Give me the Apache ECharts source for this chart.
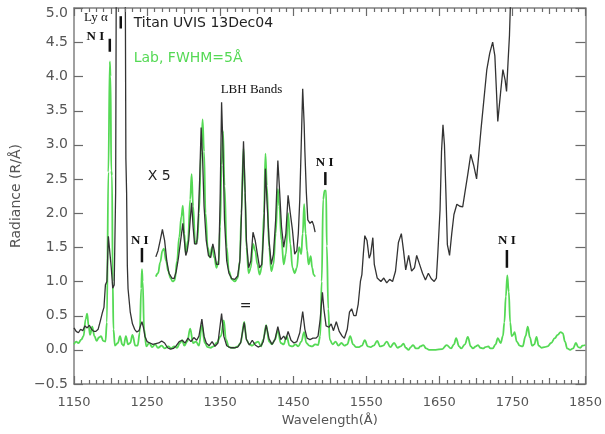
<!DOCTYPE html>
<html>
<head>
<meta charset="utf-8">
<script src="https://cdn.jsdelivr.net/npm/echarts@6/dist/echarts.min.js"></script>
<style>html,body{margin:0;padding:0;background:#fff;}#c{width:605px;height:434px;}</style>
</head>
<body>
<div id="c"></div>
<script>
// ---- data (wavelength in Å, radiance in R/Å) ----
const xTicks = [1150, 1850, 100];
const xMinorStep = 10;
const yTicks = [-0.5, 5.0, 0.5];

const titanLow = [[1150,0.32],[1153,0.27],[1156,0.25],[1159,0.3],[1162,0.28],[1165,0.35],[1168,0.32],[1171,0.36],[1174,0.3],[1177,0.27],[1180,0.27],[1183,0.3],[1186,0.42],[1189,0.55],[1191,0.62],[1193,0.95],[1195,1.0],[1197,1.66],[1199,1.66],[1201,1.2],[1203,0.9],[1205,0.95],[1207,2.3],[1208,6],[1220,6],[1221,2.8],[1222,2.3],[1223,1.23],[1224,0.89],[1227,0.55],[1230,0.38],[1233,0.3],[1236,0.26],[1239,0.28],[1241,0.35],[1243,0.41],[1245,0.33],[1247,0.2],[1250,0.12],[1254,0.1],[1258,0.08],[1262,0.09],[1266,0.1],[1270,0.13],[1274,0.1],[1278,0.03],[1282,0.01],[1286,0.02],[1290,0.06],[1294,0.12],[1298,0.14],[1302,0.1],[1306,0.17],[1310,0.12],[1314,0.18],[1318,0.14],[1321,0.2],[1325,0.45],[1328,0.2],[1331,0.1],[1335,0.06],[1339,0.12],[1343,0.05],[1347,0.1],[1352,0.53],[1355,0.2],[1359,0.06],[1364,0.03],[1369,0.03],[1374,0.04],[1378,0.1],[1383,0.4],[1386,0.15],[1390,0.07],[1394,0.14],[1398,0.07],[1402,0.04],[1406,0.06],[1409,0.12],[1413,0.36],[1417,0.16],[1421,0.08],[1425,0.15],[1429,0.34],[1433,0.15],[1437,0.2],[1440,0.15],[1443,0.27],[1447,0.14],[1451,0.1],[1455,0.12],[1459,0.25],[1463,0.56],[1466,0.3],[1469,0.17],[1473,0.15],[1477,0.17],[1481,0.17],[1484,0.2],[1487,0.45],[1490,0.84],[1492,0.6],[1495,0.35],[1499,0.33],[1502,0.38],[1505,0.28],[1509,0.41],[1513,0.27],[1517,0.2],[1520,0.17],[1524,0.3],[1527,0.55],[1530,0.6],[1533,0.5],[1536,0.5],[1539,0.67],[1542,1.0],[1544,1.1],[1546,1.4],[1548,1.67],[1551,1.6],[1554,1.34],[1556,1.4],[1559,1.64],[1561,1.25],[1565,1.05],[1570,1.0],[1574,1.05],[1578,0.98],[1582,1.03],[1586,1.0],[1590,1.15],[1594,1.57],[1598,1.7],[1601,1.45],[1604,1.17],[1608,1.38],[1612,1.15],[1616,1.2],[1619,1.38],[1623,1.25],[1627,1.12],[1631,1.02],[1635,1.12],[1639,1.04],[1643,1.0],[1646,1.05],[1648,1.42],[1651,2.05],[1653,2.9],[1655,3.29],[1657,3.0],[1659,2.3],[1661,1.54],[1664,1.38],[1667,1.7],[1670,1.98],[1674,2.13],[1678,2.1],[1682,2.09],[1685,2.3],[1689,2.57],[1693,2.86],[1697,2.7],[1701,2.5],[1704,2.86],[1707,3.22],[1711,3.66],[1715,4.1],[1719,4.34],[1723,4.5],[1726,4.3],[1728,3.83],[1730,3.34],[1732,3.35],[1734,3.78],[1737,4.1],[1740,3.95],[1742,3.78],[1744,4.2],[1746,4.6],[1748,5.3],[1750,6]];

const labLow = [[1150,0.08],[1153,0.12],[1156,0.1],[1160,0.15],[1163,0.2],[1166,0.45],[1168,0.53],[1170,0.35],[1172,0.22],[1175,0.34],[1178,0.2],[1181,0.13],[1184,0.18],[1187,0.2],[1190,0.13],[1193,0.12],[1195,0.4],[1197,2.6],[1199,4.22],[1200,4.0],[1201,2.62],[1202,2.55],[1203,1.0],[1204,0.3],[1206,0.06],[1210,0.1],[1213,0.2],[1216,0.08],[1218,0.06],[1221,0.2],[1224,0.08],[1227,0.1],[1230,0.22],[1234,0.06],[1237,0.06],[1240,0.25],[1242,0.9],[1243,1.18],[1244,1.0],[1246,0.3],[1249,0.05],[1253,0.1],[1257,0.04],[1261,0.08],[1265,0.03],[1270,0.06],[1274,0.02],[1279,0.05],[1283,0.02],[1287,0.05],[1291,0.03],[1295,0.1],[1298,0.14],[1301,0.06],[1305,0.12],[1309,0.31],[1313,0.1],[1317,0.12],[1321,0.06],[1325,0.36],[1329,0.1],[1333,0.04],[1337,0.03],[1341,0.05],[1345,0.1],[1351,0.2],[1355,0.43],[1358,0.15],[1362,0.04],[1366,0.03],[1370,0.03],[1374,0.05],[1378,0.1],[1383,0.41],[1386,0.15],[1390,0.08],[1394,0.06],[1398,0.1],[1402,0.12],[1406,0.05],[1409,0.15],[1413,0.36],[1417,0.12],[1421,0.08],[1425,0.15],[1429,0.28],[1433,0.1],[1437,0.08],[1441,0.2],[1445,0.06],[1449,0.05],[1453,0.08],[1457,0.05],[1461,0.12],[1465,0.26],[1468,0.1],[1472,0.06],[1476,0.05],[1480,0.08],[1484,0.07],[1487,0.2],[1489,1.0],[1491,2.2],[1493,2.33],[1495,2.33],[1496,1.52],[1498,0.6],[1500,0.15],[1504,0.08],[1508,0.12],[1512,0.06],[1516,0.1],[1520,0.06],[1524,0.08],[1528,0.2],[1532,0.08],[1536,0.04],[1540,0.04],[1544,0.06],[1548,0.14],[1552,0.05],[1556,0.04],[1560,0.06],[1565,0.13],[1569,0.05],[1573,0.06],[1578,0.12],[1583,0.04],[1588,0.1],[1593,0.03],[1597,0.05],[1601,0.09],[1604,0.03],[1608,0.0],[1611,0.04],[1614,0.07],[1618,0.02],[1621,0.02],[1624,0.05],[1628,0.07],[1632,0.02],[1636,0.0],[1645,0.0],[1654,0.01],[1660,0.07],[1666,0.02],[1670,0.08],[1673,0.17],[1677,0.05],[1680,0.02],[1685,0.08],[1689,0.19],[1693,0.05],[1696,0.02],[1700,0.05],[1703,0.07],[1706,0.03],[1710,0.02],[1713,0.04],[1717,0.05],[1720,0.02],[1723,0.02],[1727,0.08],[1730,0.17],[1734,0.1],[1737,0.2],[1739,0.4],[1741,0.78],[1743,1.09],[1745,0.85],[1747,0.4],[1749,0.2],[1751,0.22],[1753,0.26],[1756,0.12],[1760,0.06],[1764,0.05],[1768,0.2],[1771,0.34],[1774,0.18],[1777,0.06],[1780,0.08],[1783,0.19],[1786,0.06],[1790,0.03],[1794,0.04],[1798,0.05],[1803,0.1],[1808,0.17],[1812,0.22],[1816,0.26],[1819,0.24],[1822,0.12],[1825,0.02],[1829,0.0],[1833,0.02],[1837,0.1],[1840,0.04],[1843,0.03],[1846,0.06],[1850,0.07]];

const titanX5 = [[1262,1.36],[1265,1.45],[1268,1.6],[1271,1.76],[1274,1.6],[1277,1.3],[1280,1.12],[1284,1.05],[1287,1.04],[1290,1.15],[1293,1.35],[1296,1.6],[1299,1.85],[1301,1.6],[1303,1.38],[1305,1.45],[1307,1.6],[1309,1.9],[1311,2.15],[1313,1.8],[1315,1.55],[1318,1.55],[1320,1.9],[1322,2.5],[1324,3.25],[1326,2.8],[1328,2.1],[1331,1.6],[1334,1.38],[1337,1.35],[1340,1.55],[1342,1.45],[1345,1.25],[1348,1.25],[1350,2.2],[1352,3.62],[1354,2.9],[1356,1.9],[1359,1.3],[1362,1.12],[1366,1.04],[1370,1.03],[1374,1.08],[1377,1.3],[1379,1.9],[1382,3.05],[1384,2.4],[1386,1.6],[1389,1.2],[1392,1.3],[1395,1.72],[1398,1.6],[1401,1.4],[1404,1.2],[1407,1.25],[1410,1.8],[1412,2.65],[1414,2.2],[1417,1.6],[1420,1.25],[1423,1.4],[1426,1.9],[1429,2.77],[1431,2.4],[1434,1.8],[1437,1.5],[1440,1.7],[1443,2.26],[1446,2.0],[1449,1.75],[1452,1.4],[1455,1.45],[1457,1.7],[1459,2.2],[1461,3.0],[1463,3.82],[1465,3.3],[1466,2.9],[1468,2.3],[1470,1.9],[1473,1.85],[1476,1.88],[1478,1.82],[1480,1.72]];

const labX5 = [[1262,1.07],[1265,1.12],[1268,1.28],[1271,1.45],[1273,1.48],[1276,1.3],[1279,1.15],[1282,1.05],[1285,1.0],[1288,1.02],[1291,1.3],[1294,1.65],[1297,1.95],[1299,2.11],[1301,1.7],[1303,1.4],[1306,1.6],[1309,2.2],[1311,2.57],[1313,2.1],[1316,1.55],[1319,1.6],[1321,2.0],[1324,2.9],[1326,3.37],[1328,2.9],[1330,2.0],[1333,1.5],[1336,1.35],[1339,1.5],[1342,1.35],[1345,1.2],[1348,1.3],[1350,1.8],[1352,2.7],[1354,3.2],[1356,2.4],[1359,1.5],[1362,1.15],[1366,1.03],[1370,1.0],[1374,1.05],[1377,1.3],[1379,2.0],[1382,2.95],[1384,2.3],[1386,1.5],[1389,1.12],[1392,1.2],[1395,1.55],[1398,1.45],[1401,1.25],[1404,1.1],[1407,1.2],[1410,2.0],[1412,2.87],[1414,2.4],[1417,1.5],[1420,1.15],[1423,1.25],[1426,1.7],[1429,2.35],[1431,2.1],[1434,1.6],[1437,1.25],[1440,1.4],[1443,2.0],[1446,1.55],[1449,1.2],[1452,1.12],[1455,1.2],[1458,1.5],[1461,1.4],[1463,1.7],[1465,2.13],[1467,1.7],[1469,1.45],[1471,1.25],[1474,1.37],[1476,1.2],[1478,1.1],[1480,1.07]];

// line identification markers: [wavelength, lower, upper]
const lineMarkers = [[1199,4.36,4.55],[1214,4.70,4.88],[1243,1.28,1.49],[1494,2.41,2.60],[1742.5,1.20,1.46]];

// ---- chart ----
const GREEN = '#55d955';
const DARK = '#333';
const AX = '#808080';
const TICK = '#6a6a6a';
const SANS = 'DejaVu Sans';
const SERIF = 'Liberation Serif';

// tick positions along the wavelength axis (minor every 10 Å)
const xTickValues = [];
for (let v = xTicks[0]; v <= xTicks[1] + 1e-9; v += xMinorStep) xTickValues.push([v]);
const yTickValues = [];
for (let k = 0; yTicks[0] + k * yTicks[2] <= yTicks[1] + 1e-9; k++) yTickValues.push([+(yTicks[0] + k * yTicks[2]).toFixed(2)]);

const chart = echarts.init(document.getElementById('c'), null, {renderer:'canvas'});

function xAx(pos, show) {
  return {
    type:'value', min:xTicks[0], max:xTicks[1], interval:xTicks[2], position:pos,
    name: show ? 'Wavelength(Å)' : '', nameLocation:'middle', nameGap:29,
    nameTextStyle:{color:'#555', fontSize:13, fontFamily:SANS},
    axisLine:{show:true, onZero:false, lineStyle:{color:AX, width:1.5}},
    axisTick:{show:false},
    axisLabel:{show:show, color:'#555', fontSize:13, fontFamily:SANS, margin:12, formatter: v => String(v)},
    splitLine:{show:false}
  };
}
function yAx(pos, show) {
  return {
    type:'value', min:yTicks[0], max:yTicks[1], interval:yTicks[2], position:pos,
    name: show ? 'Radiance (R/Å)' : '', nameLocation:'middle', nameGap:46, nameRotate:90,
    nameTextStyle:{color:'#555', fontSize:14, fontFamily:SANS},
    axisLine:{show:true, onZero:false, lineStyle:{color:AX, width:1.5}},
    axisTick:{show:false},
    axisLabel:{show:show, color:'#555', fontSize:14, fontFamily:SANS, margin:6,
      formatter: v => Math.abs(v - yTicks[1]) < 1e-9 ? '{t|' + v.toFixed(1) + '}' : (v < 0 ? '−' : '') + Math.abs(v).toFixed(1),
      rich:{t:{padding:[10,0,0,0], color:'#555', fontSize:14, fontFamily:SANS}}},
    splitLine:{show:false}
  };
}

function tickSeries(name, data, horizontal) {
  return {
    type:'custom', name:name, data:data, clip:false, silent:true, z:6,
    encode: horizontal ? {x:0} : {y:0},
    renderItem:(params, api) => {
      const v = api.value(0);
      if (horizontal) {
        const off = v - xTicks[0];
        const len = (off % xTicks[2] === 0) ? 8 : (off % (xTicks[2] / 2) === 0 ? 6 : 4);
        const b = api.coord([v, yTicks[0]]);
        const t = api.coord([v, yTicks[1]]);
        const x = Math.round(b[0]) + 0.5;
        return {type:'group', children:[
          {type:'line', shape:{x1:x, y1:b[1], x2:x, y2:b[1] - len}, style:{stroke:TICK, lineWidth:1.2}},
          {type:'line', shape:{x1:x, y1:t[1], x2:x, y2:t[1] + len}, style:{stroke:TICK, lineWidth:1.2}}
        ]};
      }
      const l = api.coord([xTicks[0], v]);
      const r = api.coord([xTicks[1], v]);
      const y = Math.round(l[1]) + 0.5;
      return {type:'group', children:[
        {type:'line', shape:{x1:l[0], y1:y, x2:l[0] + 9, y2:y}, style:{stroke:TICK, lineWidth:1.2}},
        {type:'line', shape:{x1:r[0], y1:y, x2:r[0] - 10, y2:y}, style:{stroke:TICK, lineWidth:1.2}}
      ]};
    }
  };
}

chart.setOption({
  animation:false,
  backgroundColor:'#fff',
  grid:{left:74, right:17, top:8, bottom:50, containLabel:false},
  xAxis:[xAx('bottom', true), xAx('top', false)],
  yAxis:[yAx('left', true), yAx('right', false)],
  series:[
    {type:'line', name:'lab', data:labLow, showSymbol:false, smooth:0.4, smoothMonotone:'x',
     lineStyle:{color:GREEN, width:1.8}, clip:true, z:2},
    {type:'line', name:'labX5', data:labX5, showSymbol:false, smooth:0.4, smoothMonotone:'x',
     lineStyle:{color:GREEN, width:1.8}, clip:true, z:2},
    {type:'line', name:'titan', data:titanLow, showSymbol:false,
     lineStyle:{color:DARK, width:1.3}, clip:true, z:3},
    {type:'line', name:'titanX5', data:titanX5, showSymbol:false,
     lineStyle:{color:DARK, width:1.3}, clip:true, z:3},
    {type:'custom', name:'markers', data:lineMarkers, encode:{x:0, y:[1,2]}, z:4,
     renderItem:(params, api) => {
       const a = api.coord([api.value(0), api.value(1)]);
       const b = api.coord([api.value(0), api.value(2)]);
       return {type:'line', shape:{x1:a[0], y1:a[1], x2:b[0], y2:b[1]}, style:{stroke:'#111', lineWidth:2.5}};
     }},
    tickSeries('xticks', xTickValues, true),
    tickSeries('yticks', yTickValues, false)
  ]
});

// annotations anchored in data coordinates
const notes = [
  {t:'Ly α', at:[1180,4.86], size:13, fam:SERIF, w:'normal', fill:'#111', align:'center'},
  {t:'N I', at:[1179.3,4.58], size:13, fam:SERIF, w:'bold', fill:'#111', align:'center'},
  {t:'Titan UVIS 13Dec04', at:[1231.7,4.78], size:14, fam:SANS, w:'normal', fill:'#222', align:'left'},
  {t:'Lab, FWHM=5Å', at:[1231.7,4.26], size:14, fam:SANS, w:'normal', fill:GREEN, align:'left'},
  {t:'X 5', at:[1250.8,2.54], size:14, fam:SANS, w:'normal', fill:'#222', align:'left'},
  {t:'N I', at:[1240,1.59], size:13, fam:SERIF, w:'bold', fill:'#111', align:'center'},
  {t:'LBH Bands', at:[1393,3.80], size:13, fam:SERIF, w:'normal', fill:'#111', align:'center'},
  {t:'N I', at:[1493,2.74], size:13, fam:SERIF, w:'bold', fill:'#111', align:'center'},
  {t:'=', at:[1385,0.64], size:14, fam:SANS, w:'normal', fill:'#222', align:'center'},
  {t:'N I', at:[1742.4,1.59], size:13, fam:SERIF, w:'bold', fill:'#111', align:'center'}
];
const gfx = notes.map(n => {
  const p = chart.convertToPixel({gridIndex:0}, n.at);
  return {type:'text', x:p[0], y:p[1], z:10,
    style:{text:n.t, fontSize:n.size, fontFamily:n.fam, fontWeight:n.w, fill:n.fill, align:n.align, verticalAlign:'middle'}};
});
chart.setOption({graphic:gfx});
</script>
</body>
</html>
